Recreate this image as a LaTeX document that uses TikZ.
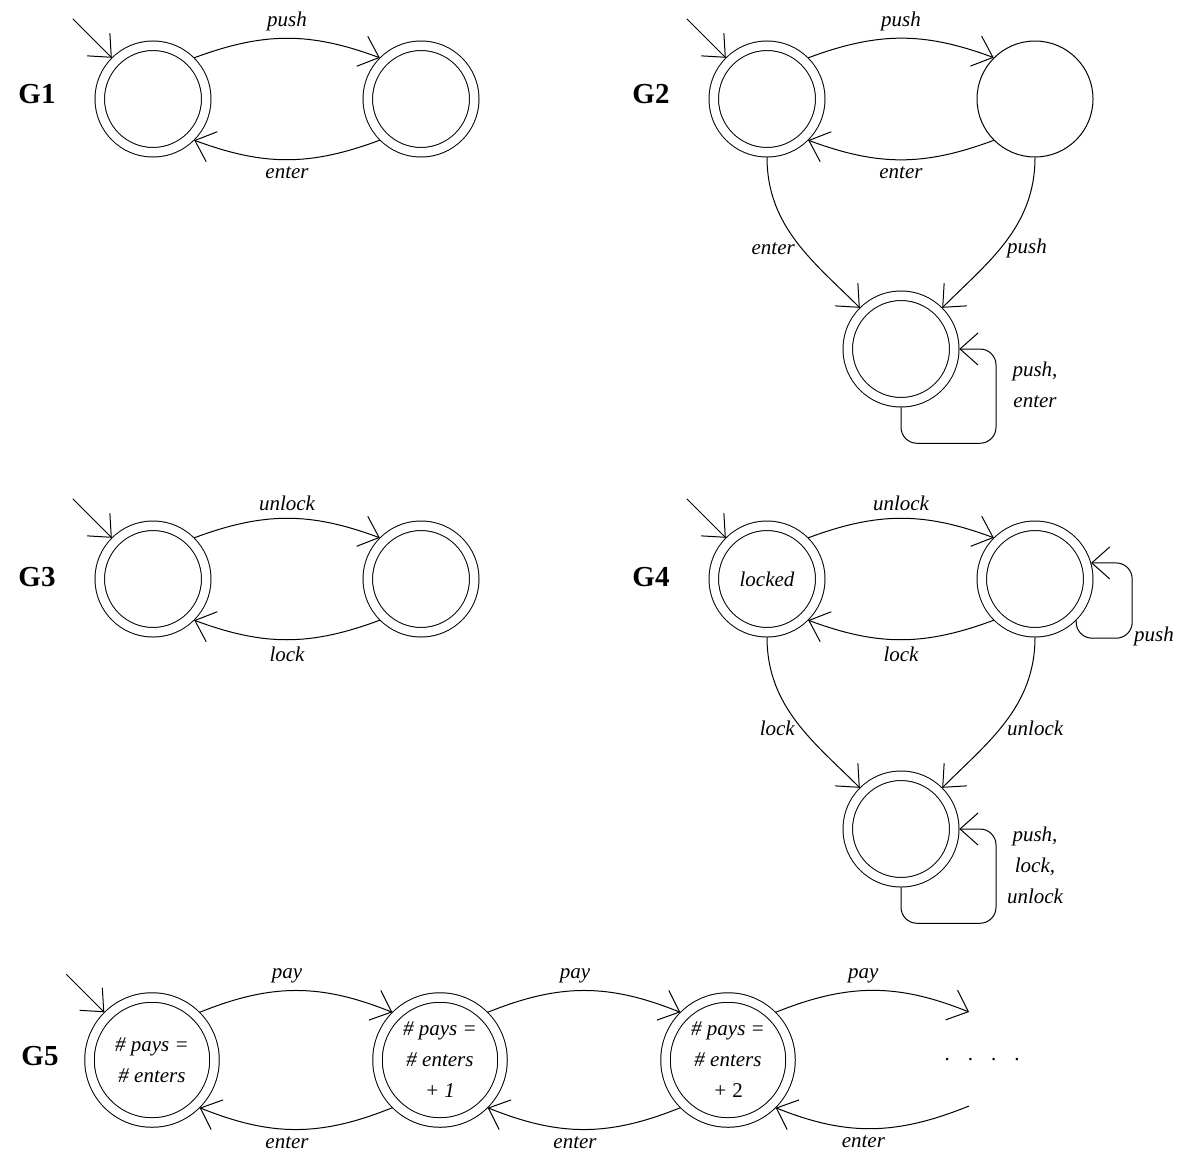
\documentclass[tikz,border=0pt]{standalone}
\usepackage{fontspec}
\setmainfont{Liberation Serif}
\usetikzlibrary{arrows.meta, positioning}
\tikzstyle{every node}=[font=\fontsize{10.5}{15.5}\selectfont\itshape]
\tikzstyle{accstate}=[circle, draw, double, double distance=4.25pt, minimum size=53.25pt, inner sep=0pt, outer sep=2.5pt]
\tikzstyle{bigstate}=[accstate, minimum size=62.5pt, align=center]
\tikzstyle{onestate}=[circle, draw, minimum size=58pt, inner sep=0pt, outer sep=0.25pt]
\tikzstyle{glabel}=[font=\fontsize{14.5}{17}\selectfont\bfseries]

\begin{document}
\begin{tikzpicture}[x=0.5pt, y=-0.5pt, line width=0.5pt, >={Straight Barb[length=9pt,width=16pt]}]
    \useasboundingbox (0,0) rectangle (1177,1151);
    % G1
    \node[accstate] (g1a) at (153,99) {};
    \node[accstate, right of=g1a, node distance=134pt] (g1b) {};
    \node[glabel, left of=g1a, node distance=58pt, yshift=2.5pt] (g1) {G1};
    \coordinate (g1i) at ([shift={(-39,-39)}]g1a.135);
    \draw[->] (g1i) -- (g1a.135);
    \draw[->] (g1a.45) .. controls +(70,-26) and +(-70,-26) .. node[above] {push} (g1b.135);
    \draw[->] (g1b.-135) .. controls +(-70,26) and +(70,26) .. node[below] {enter} (g1a.-45);
    % G2
    \node[accstate] (g2a) at (767,99) {};
    \node[onestate, right of=g2a, node distance=134pt] (g2b) {};
    \coordinate[right of=g2a, node distance=67pt] (g2m);
    \node[accstate, below of=g2m, node distance=125pt] (g2c) {};
    \node[glabel, left of=g2a, node distance=58pt, yshift=2.5pt] (g2) {G2};
    \coordinate (g2i) at ([shift={(-39,-39)}]g2a.135);
    \draw[->] (g2i) -- (g2a.135);
    \draw[->] (g2a.45) .. controls +(70,-26) and +(-70,-26) .. node[above] {push} (g2b.135);
    \draw[->] (g2b.-135) .. controls +(-70,26) and +(70,26) .. node[below] {enter} (g2a.-45);
    \draw[->] (g2a.south) .. controls +(0,70) and +(-45,-45) .. node[left, pos=0.55] {enter} (g2c.135);
    \draw[->] (g2b.south) .. controls +(0,70) and +(45,-45) .. node[right, pos=0.55] {push} (g2c.45);
    \draw[->, rounded corners=8pt] (g2c.south) |- ++(95,36) |- (g2c.east);
    \node[align=center] (g2l) at ([shift={(134,36)}]g2c) {push,\\enter};
    % G3
    \node[accstate] (g3a) at (153,579) {};
    \node[accstate, right of=g3a, node distance=134pt] (g3b) {};
    \node[glabel, left of=g3a, node distance=58pt, yshift=1pt] (g3) {G3};
    \coordinate (g3i) at ([shift={(-39,-39)}]g3a.135);
    \draw[->] (g3i) -- (g3a.135);
    \draw[->] (g3a.45) .. controls +(70,-26) and +(-70,-26) .. node[above] {unlock} (g3b.135);
    \draw[->] (g3b.-135) .. controls +(-70,26) and +(70,26) .. node[below] {lock} (g3a.-45);
    % G4
    \node[accstate] (g4a) at (767,579) {locked};
    \node[accstate, right of=g4a, node distance=134pt] (g4b) {};
    \coordinate[right of=g4a, node distance=67pt] (g4m);
    \node[accstate, below of=g4m, node distance=125pt] (g4c) {};
    \node[glabel, left of=g4a, node distance=58pt, yshift=1pt] (g4) {G4};
    \coordinate (g4i) at ([shift={(-39,-39)}]g4a.135);
    \draw[->] (g4i) -- (g4a.135);
    \draw[->] (g4a.45) .. controls +(70,-26) and +(-70,-26) .. node[above] {unlock} (g4b.135);
    \draw[->] (g4b.-135) .. controls +(-70,26) and +(70,26) .. node[below] {lock} (g4a.-45);
    \draw[->] (g4a.south) .. controls +(0,70) and +(-45,-45) .. node[left, pos=0.55] {lock} (g4c.135);
    \draw[->] (g4b.south) .. controls +(0,70) and +(45,-45) .. node[right, pos=0.55] {unlock} (g4c.45);
    \draw[->, rounded corners=8pt] (g4b.-45) |- ++(56,18) |- (g4b.16);
    \node (g4p) at ([shift={(119,57)}]g4b) {push};
    \draw[->, rounded corners=8pt] (g4c.south) |- ++(95,36) |- (g4c.east);
    \node[align=center] (g4l) at ([shift={(134,36)}]g4c) {push,\\lock,\\unlock};
    % G5
    \node[bigstate] (g5a) at (152,1060) {\# pays =\\\# enters};
    \node[bigstate, right of=g5a, node distance=144pt] (g5b) {\# pays =\\\# enters\\+ 1};
    \node[bigstate, right of=g5b, node distance=144pt] (g5c) {\# pays =\\\# enters\\+ {\upshape 2}};
    \node[glabel, left of=g5a, node distance=56pt, yshift=2pt] (g5) {G5};
    \coordinate (g5i) at ([shift={(-38,-38)}]g5a.135);
    \draw[->] (g5i) -- (g5a.135);
    \draw[->] (g5a.45) .. controls +(72,-29) and +(-72,-29) .. node[above, xshift=-4.5pt] {pay} (g5b.135);
    \draw[->] (g5b.-135) .. controls +(-72,29) and +(72,29) .. node[below, xshift=-4.5pt] {enter} (g5a.-45);
    \draw[->] (g5b.45) .. controls +(72,-29) and +(-72,-29) .. node[above, xshift=-4.5pt] {pay} (g5c.135);
    \draw[->] (g5c.-135) .. controls +(-72,29) and +(72,29) .. node[below, xshift=-4.5pt] {enter} (g5b.-45);
    \coordinate (g5out) at ([shift={(241,-48)}]g5c);
    \coordinate (g5in) at ([shift={(241,46)}]g5c);
    \draw[->] (g5c.45) .. controls +(72,-29) and +(-72,-29) .. node[above, xshift=-4.5pt] {pay} (g5out);
    \draw[->] (g5in) .. controls +(-72,29) and +(72,29) .. node[below, xshift=-4.5pt] {enter} (g5c.-45);
    \node (dots) at ([shift={(254,0)}]g5c) {\upshape .\hspace{9pt}.\hspace{9pt}.\hspace{9pt}.};
\end{tikzpicture}
\end{document}
